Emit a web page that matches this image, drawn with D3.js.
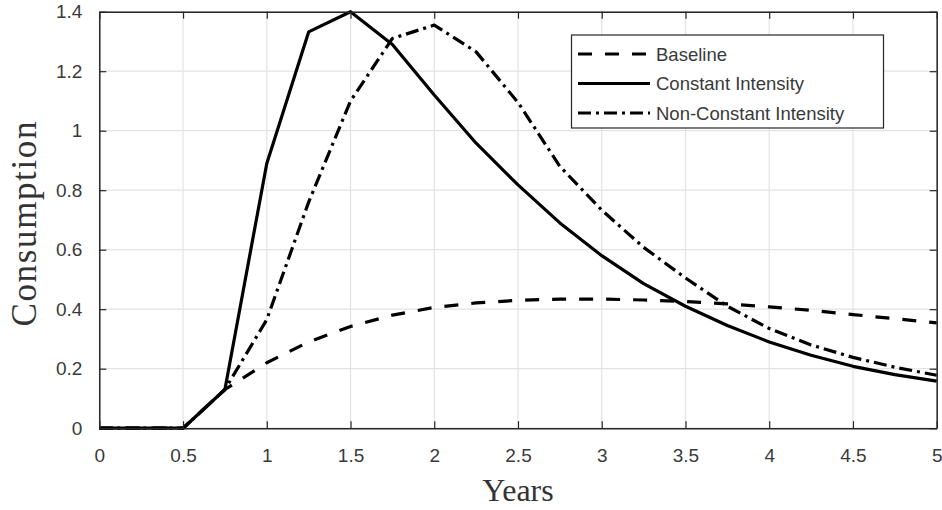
<!DOCTYPE html>
<html>
<head>
<meta charset="utf-8">
<script src="https://cdn.jsdelivr.net/npm/d3@7/dist/d3.min.js"></script>
<style>
  html, body { margin: 0; padding: 0; background: #fff; }
  svg { display: block; }
</style>
</head>
<body>
<svg id="chart" width="942" height="510"></svg>
<script>
// Time in years (quarterly steps)
const years = [0, 0.25, 0.5, 0.75, 1, 1.25, 1.5, 1.75, 2, 2.25, 2.5, 2.75, 3, 3.25, 3.5, 3.75, 4, 4.25, 4.5, 4.75, 5];

// Consumption for each scenario
const baseline = [0, 0, 0, 0.13, 0.22, 0.29, 0.342, 0.38, 0.406, 0.421, 0.43, 0.434, 0.434, 0.431, 0.426, 0.418, 0.408, 0.396, 0.382, 0.368, 0.354];
const constantIntensity = [0, 0, 0, 0.13, 0.89, 1.332, 1.40, 1.29, 1.12, 0.958, 0.818, 0.69, 0.58, 0.486, 0.41, 0.345, 0.29, 0.245, 0.208, 0.18, 0.158];
const nonConstantIntensity = [0, 0, 0, 0.13, 0.365, 0.76, 1.10, 1.31, 1.355, 1.265, 1.095, 0.88, 0.733, 0.608, 0.505, 0.41, 0.335, 0.28, 0.238, 0.205, 0.178];

const seriesNames = ["Baseline", "Constant Intensity", "Non-Constant Intensity"];
const xTicks = [0, 0.5, 1, 1.5, 2, 2.5, 3, 3.5, 4, 4.5, 5];
const yTicks = [0, 0.2, 0.4, 0.6, 0.8, 1, 1.2, 1.4];

const dashes = ["14,13", null, "13,5,3,5"];
const seriesData = [baseline, constantIntensity, nonConstantIntensity];

const svg = d3.select("#chart");
const plotLeft = 99.3, plotRight = 936.7, plotTop = 11.7, plotBottom = 428.2;

const x = d3.scaleLinear().domain([0, 5]).range([plotLeft, plotRight]);
const y = d3.scaleLinear().domain([0, 1.4]).range([plotBottom, plotTop]);

const axisColor = "#262626";
const tickColor = "#3a3a3a";

// Grid
const grid = svg.append("g");
grid.selectAll("line.gx").data(xTicks).enter().append("line")
  .attr("x1", d => x(d)).attr("x2", d => x(d))
  .attr("y1", plotTop).attr("y2", plotBottom)
  .attr("stroke", "#e3e3e3").attr("stroke-width", 1.2);
grid.selectAll("line.gy").data(yTicks).enter().append("line")
  .attr("x1", plotLeft).attr("x2", plotRight)
  .attr("y1", d => y(d)).attr("y2", d => y(d))
  .attr("stroke", "#e3e3e3").attr("stroke-width", 1.2);

// Curves
const line = d3.line().x((d, i) => x(years[i])).y(d => y(d));
seriesData.forEach((s, k) => {
  svg.append("path")
    .datum(s)
    .attr("d", line)
    .attr("fill", "none")
    .attr("stroke", "#000")
    .attr("stroke-width", 3.2)
    .attr("stroke-linejoin", "round")
    .attr("stroke-dasharray", dashes[k]);
});

// Axes (ticks point inward, box closed on all sides)
function styleAxis(g) {
  g.select(".domain").attr("stroke", axisColor).attr("stroke-width", 1.5);
  g.selectAll(".tick line").attr("stroke", axisColor).attr("stroke-width", 1.2);
  g.selectAll(".tick text").attr("fill", tickColor)
    .attr("font-family", "'Liberation Sans', Arial, sans-serif")
    .attr("font-size", 19);
}
const fmt = d3.format("");
svg.append("g").attr("transform", `translate(0,${plotBottom})`)
  .call(d3.axisBottom(x).tickValues(xTicks).tickFormat(fmt).tickSizeInner(-7).tickSizeOuter(0).tickPadding(20))
  .call(styleAxis);
svg.append("g").attr("transform", `translate(0,${plotTop})`)
  .call(d3.axisTop(x).tickValues(xTicks).tickFormat("").tickSizeInner(-7).tickSizeOuter(0))
  .call(styleAxis);
svg.append("g").attr("transform", `translate(${plotLeft},0)`)
  .call(d3.axisLeft(y).tickValues(yTicks).tickFormat(fmt).tickSizeInner(-7).tickSizeOuter(0).tickPadding(17))
  .call(styleAxis);
svg.append("g").attr("transform", `translate(${plotRight},0)`)
  .call(d3.axisRight(y).tickValues(yTicks).tickFormat("").tickSizeInner(-7).tickSizeOuter(0))
  .call(styleAxis);

// Axis titles
svg.append("text")
  .attr("x", (plotLeft + plotRight) / 2).attr("y", 501)
  .attr("text-anchor", "middle")
  .attr("font-family", "'Liberation Serif', 'Times New Roman', serif")
  .attr("font-size", 32).attr("fill", "#333")
  .text("Years");
svg.append("text")
  .attr("transform", "translate(36,224) rotate(-90)")
  .attr("text-anchor", "middle")
  .attr("font-family", "'Liberation Serif', 'Times New Roman', serif")
  .attr("font-size", 35).attr("fill", "#333")
  .attr("textLength", 205).attr("lengthAdjust", "spacing")
  .text("Consumption");

// Legend
const lg = svg.append("g");
lg.append("rect")
  .attr("x", 571.5).attr("y", 35).attr("width", 312).attr("height", 93)
  .attr("fill", "#fff").attr("stroke", axisColor).attr("stroke-width", 1.2);
seriesNames.forEach((name, k) => {
  const yy = 54 + k * 29.5;
  lg.append("line")
    .attr("x1", 578).attr("x2", 650).attr("y1", yy).attr("y2", yy)
    .attr("stroke", "#000").attr("stroke-width", 3.2)
    .attr("stroke-dasharray", dashes[k]);
  lg.append("text")
    .attr("x", 656).attr("y", yy + 6.5)
    .attr("font-family", "'Liberation Sans', Arial, sans-serif")
    .attr("font-size", 18.5).attr("fill", tickColor)
    .text(name);
});
</script>
</body>
</html>
